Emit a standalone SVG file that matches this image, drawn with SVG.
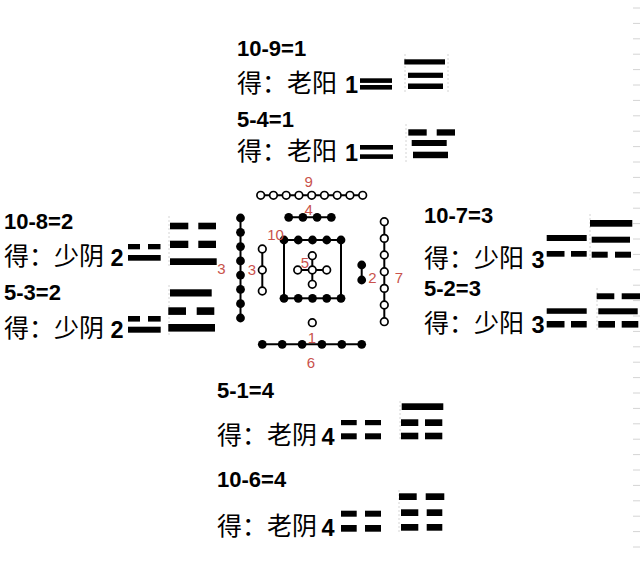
<svg xmlns="http://www.w3.org/2000/svg" width="640" height="563" viewBox="0 0 640 563">
<style>
.eq{font-family:"Liberation Sans",Arial,sans-serif;font-weight:bold;font-size:22px;fill:#000}
.cn{font-family:"Noto Sans CJK SC","Noto Sans",sans-serif;font-size:25px;fill:#000}
.num{font-family:"Liberation Sans",Arial,sans-serif;font-weight:bold;font-size:23.5px}
.lbl{font-family:"Liberation Sans",Arial,sans-serif;font-size:15px;fill:#c9524c;text-anchor:middle}
.bar{fill:#000}
.ln{stroke:#000;stroke-width:2;fill:none}
.op{fill:#fff;stroke:#000;stroke-width:1.7}
.fd{fill:#000}
.grid{stroke:#d4d4d4;stroke-width:1;fill:none}
</style>
<rect width="640" height="563" fill="#fff"/>

<!-- faint sheet grid ticks on right edge -->
<g id="grid">
<path class="grid" d="M633 8h7M633 23.4h7M633 38.8h7M633 54.2h7M633 69.6h7M633 85h7M633 100.4h7M633 115.8h7M633 131.2h7M633 146.6h7M633 162h7M633 177.4h7M633 192.8h7M633 208.2h7M633 223.6h7M633 239h7M633 254.4h7M633 269.8h7M633 285.2h7M633 300.6h7M633 316h7M633 331.4h7M633 346.8h7M633 362.2h7M633 377.6h7M633 393h7M633 408.4h7M633 423.8h7M633 439.2h7M633 454.6h7M633 470h7M633 485.4h7M633 500.8h7M633 516.2h7M633 531.6h7M633 547h7"/>
<path class="grid" stroke-dasharray="2 2" d="M405 54v40M448 54v40M406 124v38M169 216v52M169 285v50M590 214v46M597 288v42M399 490v44M400 401v40"/>
</g>

<!-- Ho Tu centre diagram -->
<g id="hetu">
 <g id="n9">
  <line class="ln" x1="260.7" y1="195.3" x2="362.7" y2="195.3"/>
  <circle class="op" cx="260.7" cy="195.3" r="3.8"/><circle class="op" cx="273.45" cy="195.3" r="3.8"/><circle class="op" cx="286.2" cy="195.3" r="3.8"/><circle class="op" cx="298.95" cy="195.3" r="3.8"/><circle class="op" cx="311.7" cy="195.3" r="3.8"/><circle class="op" cx="324.45" cy="195.3" r="3.8"/><circle class="op" cx="337.2" cy="195.3" r="3.8"/><circle class="op" cx="349.95" cy="195.3" r="3.8"/><circle class="op" cx="362.7" cy="195.3" r="3.8"/>
  <text class="lbl" x="308.7" y="187">9</text>
 </g>
 <g id="n4">
  <line class="ln" x1="288.7" y1="217.3" x2="331.3" y2="217.3"/>
  <circle class="fd" cx="288.7" cy="217.3" r="4.4"/><circle class="fd" cx="302.9" cy="217.3" r="4.4"/><circle class="fd" cx="317.1" cy="217.3" r="4.4"/><circle class="fd" cx="331.3" cy="217.3" r="4.4"/>
  <text class="lbl" x="308.7" y="214.5">4</text>
 </g>
 <g id="n8">
  <line class="ln" x1="240.5" y1="218" x2="240.5" y2="318"/>
  <circle class="fd" cx="240.5" cy="218" r="4.4"/><circle class="fd" cx="240.5" cy="232.3" r="4.4"/><circle class="fd" cx="240.5" cy="246.6" r="4.4"/><circle class="fd" cx="240.5" cy="260.9" r="4.4"/><circle class="fd" cx="240.5" cy="275.1" r="4.4"/><circle class="fd" cx="240.5" cy="289.4" r="4.4"/><circle class="fd" cx="240.5" cy="303.7" r="4.4"/><circle class="fd" cx="240.5" cy="318" r="4.4"/>
  <text class="lbl" x="221.5" y="273.5">3</text>
 </g>
 <g id="n3">
  <line class="ln" x1="262.3" y1="249" x2="262.3" y2="291"/>
  <circle class="op" cx="262.3" cy="249" r="3.8"/><circle class="op" cx="262.3" cy="270" r="3.8"/><circle class="op" cx="262.3" cy="291" r="3.8"/>
  <text class="lbl" x="252" y="274.5">3</text>
 </g>
 <g id="n10">
  <rect class="ln" x="284" y="240" width="57" height="58.3"/>
  <circle class="fd" cx="284" cy="240" r="4.4"/><circle class="fd" cx="298.25" cy="240" r="4.4"/><circle class="fd" cx="312.5" cy="240" r="4.4"/><circle class="fd" cx="326.75" cy="240" r="4.4"/><circle class="fd" cx="341" cy="240" r="4.4"/>
  <circle class="fd" cx="284" cy="298.3" r="4.4"/><circle class="fd" cx="298.25" cy="298.3" r="4.4"/><circle class="fd" cx="312.5" cy="298.3" r="4.4"/><circle class="fd" cx="326.75" cy="298.3" r="4.4"/><circle class="fd" cx="341" cy="298.3" r="4.4"/>
  <text class="lbl" x="275.5" y="239.5">10</text>
 </g>
 <g id="n5">
  <line class="ln" x1="312.3" y1="255.7" x2="312.3" y2="284.3"/>
  <line class="ln" x1="297.7" y1="270" x2="326.7" y2="270"/>
  <circle class="op" cx="312.3" cy="255.7" r="3.8"/><circle class="op" cx="312.3" cy="284.3" r="3.8"/><circle class="op" cx="297.7" cy="270" r="3.8"/><circle class="op" cx="326.7" cy="270" r="3.8"/><circle class="op" cx="312.3" cy="270" r="3.8"/>
  <text class="lbl" x="305" y="267.5">5</text>
 </g>
 <g id="n2">
  <line class="ln" x1="361.7" y1="265" x2="361.7" y2="280"/>
  <circle class="fd" cx="361.7" cy="265" r="4.4"/><circle class="fd" cx="361.7" cy="280" r="4.4"/>
  <text class="lbl" x="372.5" y="282.5">2</text>
 </g>
 <g id="n7">
  <line class="ln" x1="384.3" y1="221.7" x2="384.3" y2="321.7"/>
  <circle class="op" cx="384.3" cy="221.7" r="3.8"/><circle class="op" cx="384.3" cy="238.4" r="3.8"/><circle class="op" cx="384.3" cy="255" r="3.8"/><circle class="op" cx="384.3" cy="271.7" r="3.8"/><circle class="op" cx="384.3" cy="288.4" r="3.8"/><circle class="op" cx="384.3" cy="305" r="3.8"/><circle class="op" cx="384.3" cy="321.7" r="3.8"/>
  <text class="lbl" x="399" y="282.5">7</text>
 </g>
 <g id="n1">
  <circle class="op" cx="312.3" cy="322.7" r="3.8"/>
  <text class="lbl" x="312" y="343">1</text>
 </g>
 <g id="n6">
  <line class="ln" x1="262.3" y1="344.3" x2="361.7" y2="344.3"/>
  <circle class="fd" cx="262.3" cy="344.3" r="4.4"/><circle class="fd" cx="282.2" cy="344.3" r="4.4"/><circle class="fd" cx="302.1" cy="344.3" r="4.4"/><circle class="fd" cx="321.9" cy="344.3" r="4.4"/><circle class="fd" cx="341.8" cy="344.3" r="4.4"/><circle class="fd" cx="361.7" cy="344.3" r="4.4"/>
  <text class="lbl" x="311" y="368">6</text>
 </g>
</g>

<!-- Top: 10-9=1 -->
<g id="b109">
 <text class="eq" x="237" y="56">10-9=1</text>
 <text class="cn" x="237" y="92">得：老阳<tspan class="num" x="345" y="93">1</tspan></text>
 <rect class="bar" x="360" y="78.3" width="32" height="4.6"/><rect class="bar" x="360" y="85" width="32" height="4.6"/>
 <rect class="bar" x="404.3" y="59.3" width="40.7" height="5.2"/><rect class="bar" x="408" y="72.7" width="35" height="5.2"/><rect class="bar" x="408" y="83.5" width="35" height="5.5"/>
</g>
<!-- Top: 5-4=1 -->
<g id="b54">
 <text class="eq" x="237" y="126.7">5-4=1</text>
 <text class="cn" x="237" y="160">得：老阳<tspan class="num" x="345" y="161">1</tspan></text>
 <rect class="bar" x="360" y="145" width="33" height="4.6"/><rect class="bar" x="360" y="154.3" width="33" height="4.6"/>
 <rect class="bar" x="408.3" y="129.3" width="18.4" height="6.3"/><rect class="bar" x="436.7" y="129.3" width="18.3" height="6.3"/>
 <rect class="bar" x="411.7" y="140" width="35" height="6"/><rect class="bar" x="413" y="151.7" width="35" height="6.5"/>
</g>
<!-- Left: 10-8=2 -->
<g id="b108">
 <text class="eq" x="4" y="229.3">10-8=2</text>
 <text class="cn" x="4" y="265">得：少阴<tspan class="num" x="110.5" y="266">2</tspan></text>
 <rect class="bar" x="128" y="244" width="12" height="5.3"/><rect class="bar" x="148" y="244" width="12.5" height="5.3"/>
 <rect class="bar" x="128" y="255" width="32.7" height="5.7"/>
 <rect class="bar" x="170" y="222.7" width="18.3" height="6.6"/><rect class="bar" x="198.3" y="222.7" width="17.7" height="6.6"/>
 <rect class="bar" x="170" y="240.7" width="18.3" height="7.3"/><rect class="bar" x="198.3" y="240.7" width="17.7" height="7.3"/>
 <rect class="bar" x="170" y="258.3" width="46.7" height="6.7"/>
</g>
<!-- Left: 5-3=2 -->
<g id="b53">
 <text class="eq" x="4" y="300">5-3=2</text>
 <text class="cn" x="4" y="336.5">得：少阴<tspan class="num" x="110.5" y="337.5">2</tspan></text>
 <rect class="bar" x="128" y="316" width="12" height="5.6"/><rect class="bar" x="148" y="316" width="12.7" height="5.6"/>
 <rect class="bar" x="128" y="326.7" width="32.7" height="6"/>
 <rect class="bar" x="170" y="289.3" width="41.7" height="7.2"/>
 <rect class="bar" x="168.3" y="307.3" width="17.7" height="7.6"/><rect class="bar" x="196.7" y="307.3" width="17.6" height="7.6"/>
 <rect class="bar" x="168.3" y="324" width="46.7" height="7.6"/>
</g>
<!-- Right: 10-7=3 -->
<g id="b107">
 <text class="eq" x="424" y="223.3">10-7=3</text>
 <text class="cn" x="424" y="266.5">得：少阳<tspan class="num" x="531.5" y="267.5">3</tspan></text>
 <rect class="bar" x="546.7" y="235" width="40" height="6"/>
 <rect class="bar" x="546.7" y="251" width="17.8" height="5.7"/><rect class="bar" x="571" y="251" width="15.7" height="5.7"/>
 <rect class="bar" x="590" y="220" width="42.3" height="6.7"/>
 <rect class="bar" x="591.7" y="236.7" width="38.3" height="6"/>
 <rect class="bar" x="591.7" y="251.7" width="16" height="6"/><rect class="bar" x="615" y="251.7" width="16" height="6"/>
</g>
<!-- Right: 5-2=3 -->
<g id="b52">
 <text class="eq" x="424" y="295.7">5-2=3</text>
 <text class="cn" x="424" y="331.5">得：少阳<tspan class="num" x="531.5" y="332.5">3</tspan></text>
 <rect class="bar" x="546.7" y="308.3" width="40" height="5.5"/>
 <rect class="bar" x="546.7" y="321" width="17.8" height="6.5"/><rect class="bar" x="571" y="321" width="15.7" height="6.5"/>
 <rect class="bar" x="596.7" y="293.3" width="17.6" height="5.9"/><rect class="bar" x="621.7" y="293.3" width="18.3" height="5.9"/>
 <rect class="bar" x="598.3" y="308.3" width="39.4" height="6"/>
 <rect class="bar" x="598.3" y="321" width="16.7" height="6.6"/><rect class="bar" x="621.7" y="321" width="16.6" height="6.6"/>
</g>
<!-- Bottom: 5-1=4 -->
<g id="b51">
 <text class="eq" x="217" y="398.3">5-1=4</text>
 <text class="cn" x="217" y="443.5">得：老阴<tspan class="num" x="321.5" y="444.5">4</tspan></text>
 <rect class="bar" x="341" y="420" width="15.7" height="5.2"/><rect class="bar" x="365" y="420" width="16" height="5.2"/>
 <rect class="bar" x="341" y="433.3" width="15.7" height="6"/><rect class="bar" x="365" y="433.3" width="16" height="6"/>
 <rect class="bar" x="401.7" y="403.3" width="41.6" height="6.7"/>
 <rect class="bar" x="401" y="419.3" width="17.3" height="6.7"/><rect class="bar" x="425" y="419.3" width="17.3" height="6.7"/>
 <rect class="bar" x="401" y="432.7" width="17.3" height="6.6"/><rect class="bar" x="425" y="432.7" width="17.3" height="6.6"/>
</g>
<!-- Bottom: 10-6=4 -->
<g id="b106">
 <text class="eq" x="217" y="487.3">10-6=4</text>
 <text class="cn" x="217" y="535">得：老阴<tspan class="num" x="321.5" y="536">4</tspan></text>
 <rect class="bar" x="341" y="510.7" width="15.7" height="6"/><rect class="bar" x="365" y="510.7" width="16" height="6"/>
 <rect class="bar" x="341" y="525" width="15.7" height="6.7"/><rect class="bar" x="365" y="525" width="16" height="6.7"/>
 <rect class="bar" x="399" y="493.3" width="17.7" height="6.7"/><rect class="bar" x="425.7" y="493.3" width="18.6" height="6.7"/>
 <rect class="bar" x="401" y="509.3" width="17.3" height="6.7"/><rect class="bar" x="426.7" y="509.3" width="15.6" height="6.7"/>
 <rect class="bar" x="401" y="524" width="17.3" height="6.7"/><rect class="bar" x="426.7" y="524" width="15.6" height="6.7"/>
</g>
</svg>
